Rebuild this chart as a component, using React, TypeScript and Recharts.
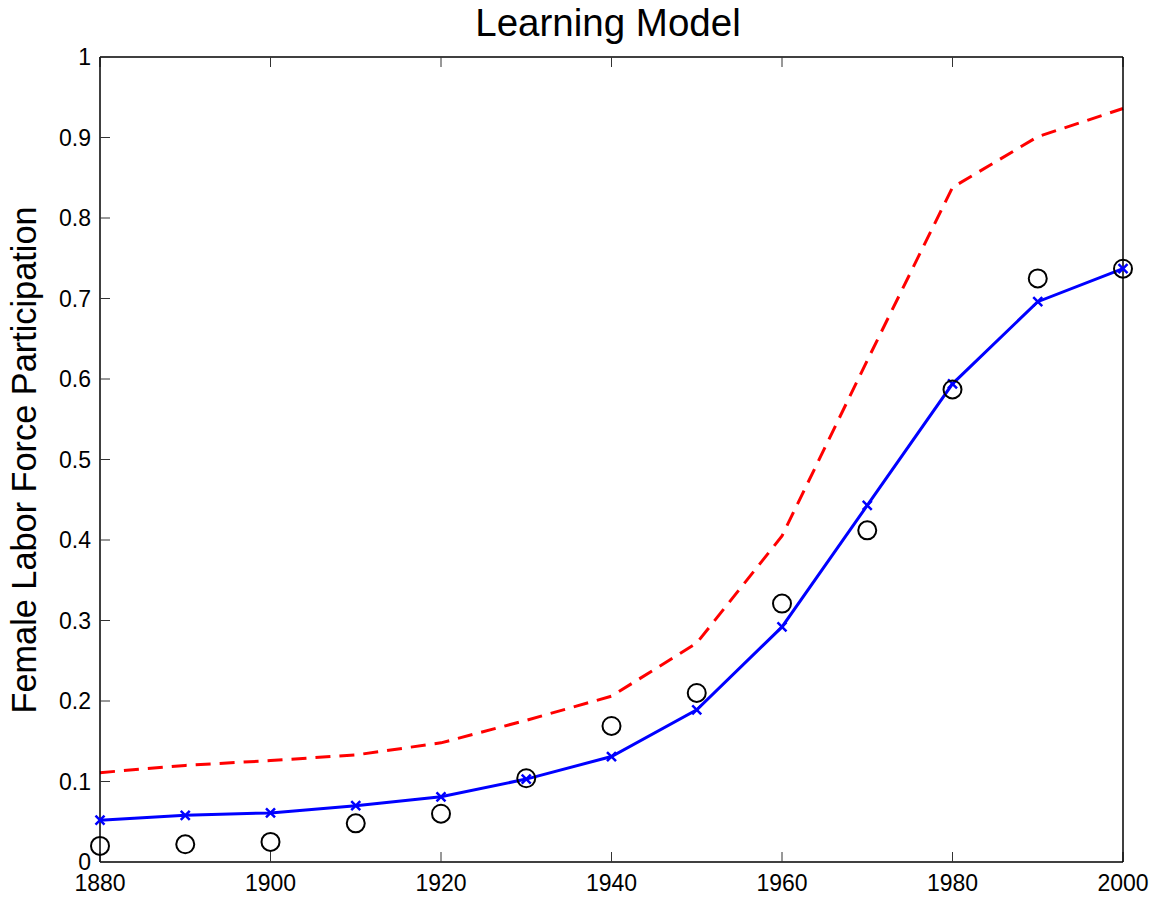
import { ComposedChart, XAxis, YAxis, Line } from 'recharts'

const years = [1880, 1890, 1900, 1910, 1920, 1930, 1940, 1950, 1960, 1970, 1980, 1990, 2000]
const modelValues = [0.052, 0.058, 0.061, 0.07, 0.081, 0.103, 0.131, 0.189, 0.292, 0.443, 0.594, 0.696, 0.737]
const observedValues = [0.02, 0.022, 0.025, 0.048, 0.06, 0.104, 0.169, 0.21, 0.321, 0.412, 0.587, 0.725, 0.737]
const upperValues = [0.111, 0.12, 0.126, 0.133, 0.148, 0.176, 0.206, 0.272, 0.405, 0.623, 0.838, 0.901, 0.936]
const xTicks = [1880, 1900, 1920, 1940, 1960, 1980, 2000]
const yTicks = [0, 0.1, 0.2, 0.3, 0.4, 0.5, 0.6, 0.7, 0.8, 0.9, 1]

const chartData = years.map((year, i) => ({
  year,
  model: modelValues[i],
  observed: observedValues[i],
  upper: upperValues[i],
}))

const font = '"Liberation Sans", Arial, Helvetica, sans-serif'

const CrossDot = (props: any) => {
  const { cx, cy, index } = props
  if (cx == null || cy == null) return null
  const s = 4.5
  return (
    <path
      key={'x' + index}
      d={`M${cx - s},${cy - s}L${cx + s},${cy + s}M${cx - s},${cy + s}L${cx + s},${cy - s}`}
      stroke="#0000ff"
      strokeWidth={2.5}
      fill="none"
    />
  )
}

const CircleDot = (props: any) => {
  const { cx, cy, index } = props
  if (cx == null || cy == null) return null
  return <circle key={'o' + index} cx={cx} cy={cy} r={9} stroke="#000" strokeWidth={2} fill="none" />
}

const tickStyle = { fill: '#000', fontSize: 23, fontFamily: font }
const noLabel = () => ''

export default function App() {
  return (
    <div style={{ position: 'absolute', left: 0, top: 0, width: 1161, height: 898, background: '#fff' }}>
      <div
        style={{
          position: 'absolute',
          left: 608,
          top: 23,
          transform: 'translate(-50%, -50%)',
          fontFamily: font,
          fontSize: 38.5,
          lineHeight: 1,
          whiteSpace: 'nowrap',
          color: '#000',
        }}
      >
        Learning Model
      </div>
      <div
        style={{
          position: 'absolute',
          left: 23.5,
          top: 460,
          transform: 'translate(-50%, -50%) rotate(-90deg)',
          fontFamily: font,
          fontSize: 34.3,
          lineHeight: 1,
          whiteSpace: 'nowrap',
          color: '#000',
        }}
      >
        Female Labor Force Participation
      </div>
      <ComposedChart width={1161} height={898} data={chartData} margin={{ top: 0, right: 0, bottom: 0, left: 0 }}>
        <XAxis
          xAxisId="b"
          dataKey="year"
          type="number"
          domain={[1880, 2000]}
          ticks={xTicks}
          orientation="bottom"
          height={36}
          tickSize={-10}
          tickMargin={23}
          tick={tickStyle}
          axisLine={{ stroke: '#000', strokeWidth: 1.5 }}
          tickLine={{ stroke: '#333', strokeWidth: 1 }}
          interval={0}
        />
        <XAxis
          xAxisId="t"
          dataKey="year"
          type="number"
          domain={[1880, 2000]}
          ticks={xTicks}
          orientation="top"
          height={57}
          tickSize={-10}
          tickFormatter={noLabel}
          axisLine={{ stroke: '#000', strokeWidth: 1.5 }}
          tickLine={{ stroke: '#333', strokeWidth: 1 }}
          interval={0}
        />
        <YAxis
          yAxisId="l"
          type="number"
          domain={[0, 1]}
          ticks={yTicks}
          orientation="left"
          width={100}
          tickSize={-10}
          tickMargin={19}
          tick={tickStyle}
          axisLine={{ stroke: '#000', strokeWidth: 1.5 }}
          tickLine={{ stroke: '#333', strokeWidth: 1 }}
          interval={0}
        />
        <YAxis
          yAxisId="r"
          type="number"
          domain={[0, 1]}
          ticks={yTicks}
          orientation="right"
          width={38}
          tickSize={-10}
          tickFormatter={noLabel}
          axisLine={{ stroke: '#000', strokeWidth: 1.5 }}
          tickLine={{ stroke: '#333', strokeWidth: 1 }}
          interval={0}
        />
        <Line
          xAxisId="b"
          yAxisId="l"
          type="linear"
          dataKey="upper"
          stroke="#ff0000"
          strokeWidth={3}
          strokeDasharray="15 9"
          dot={false}
          activeDot={false}
          isAnimationActive={false}
        />
        <Line
          xAxisId="b"
          yAxisId="l"
          type="linear"
          dataKey="model"
          stroke="#0000ff"
          strokeWidth={3}
          dot={CrossDot}
          activeDot={false}
          isAnimationActive={false}
        />
        <Line
          xAxisId="b"
          yAxisId="l"
          type="linear"
          dataKey="observed"
          stroke="none"
          dot={CircleDot}
          activeDot={false}
          isAnimationActive={false}
        />
      </ComposedChart>
    </div>
  )
}
